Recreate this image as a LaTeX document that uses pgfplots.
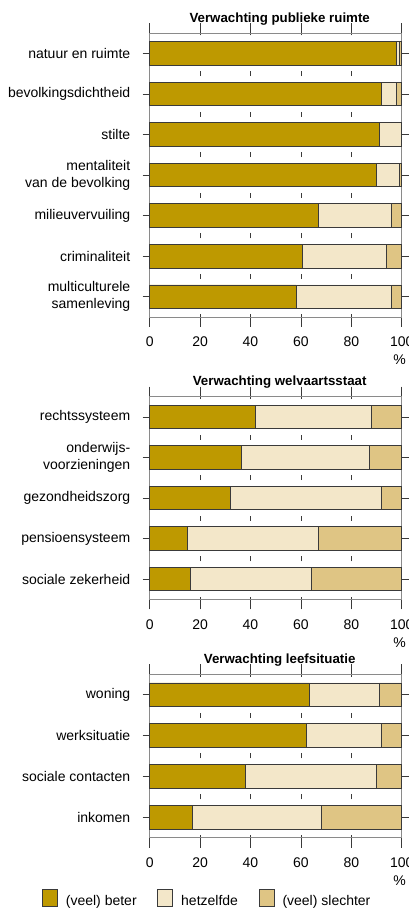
\documentclass[border=0pt]{standalone}
\usepackage{pgfplots}
\pgfplotsset{compat=1.18}
\usepackage{fontspec}
\setmainfont{Liberation Sans}
\definecolor{cBeter}{HTML}{BE9900}
\definecolor{cHetz}{HTML}{F3E7C9}
\definecolor{cSlecht}{HTML}{DFC584}
\definecolor{cEdge}{HTML}{3A3A3A}
\definecolor{cFrame}{HTML}{8A8A8A}
\tikzset{pct/.style={anchor=north east, inner sep=0pt, xshift=4.3pt, yshift=-38pt, font=\fontsize{14}{16.8}\selectfont}}
\pgfplotsset{
  panel/.style={
    scale only axis, width=252pt, anchor=south west,
    xbar stacked, bar width=23.5pt,
    xmin=0, xmax=100,
    xtick={0,20,40,60,80,100},
    tick align=outside,
    xtick style={/pgfplots/major tick length=10pt, draw=cEdge, line width=0.6pt},
    ytick style={/pgfplots/major tick length=7pt, draw=cEdge, line width=0.6pt},
    axis line style={draw=cFrame, line width=0.8pt},
    /pgf/number format/assume math mode=true,
    ticklabel style={font=\fontsize{14}{16.8}\selectfont, inner sep=0pt},
    yticklabel style={align=right, anchor=east, xshift=-15pt},
    xticklabel style={anchor=north, yshift=-15.5pt},
    xmajorgrids,
    title style={at={(0.5,1)}, anchor=base, yshift=5pt, xshift=4pt, inner sep=0pt,
      font=\fontsize{13.3}{16}\selectfont\bfseries},
    clip=false,
  },
  beter/.style={fill=cBeter, draw=cEdge, line width=0.7pt},
  hetz/.style={fill=cHetz, draw=cEdge, line width=0.7pt},
  slecht/.style={fill=cSlecht, draw=cEdge, line width=0.7pt},
}
\begin{document}
\begin{tikzpicture}
\useasboundingbox (0,0) rectangle (409pt,908pt);
% Panel 1
\begin{axis}[panel, at={(149.7pt,591pt)}, height=284pt,
  ymin=-0.5, ymax=6.5, ytick={0,1,2,3,4,5,6},
  yticklabels={{multiculturele\\samenleving}, criminaliteit, milieuvervuiling, {mentaliteit\\van de bevolking}, stilte, bevolkingsdichtheid, {natuur en ruimte}},
  title={Verwachting publieke ruimte},
  major x grid style={draw=cEdge, line width=0.6pt, dash pattern=on 5pt off 35.571pt, dash phase=2.5pt}]
\addplot[beter] coordinates {(58,0) (60.5,1) (67,2) (90,3) (91,4) (92,5) (98,6)};
\addplot[hetz] coordinates {(38,0) (33.5,1) (29,2) (9,3) (9,4) (6,5) (1,6)};
\addplot[slecht] coordinates {(4,0) (6,1) (4,2) (1,3) (0,4) (2,5) (1,6)};
\node[pct] at (rel axis cs:1,0) {\%};
\end{axis}
% Panel 2
\begin{axis}[panel, at={(149.7pt,308.7pt)}, height=202.6pt,
  ymin=-0.5, ymax=4.5, ytick={0,1,2,3,4},
  yticklabels={{sociale zekerheid}, pensioensysteem, gezondheidszorg, {onderwijs-\\voorzieningen}, rechtssysteem},
  title={Verwachting welvaartsstaat},
  major x grid style={draw=cEdge, line width=0.6pt, dash pattern=on 5pt off 35.52pt, dash phase=2.5pt}]
\addplot[beter] coordinates {(16,0) (15,1) (32,2) (36.5,3) (42,4)};
\addplot[hetz] coordinates {(48,0) (52,1) (60,2) (50.5,3) (46,4)};
\addplot[slecht] coordinates {(36,0) (33,1) (8,2) (13,3) (12,4)};
\node[pct] at (rel axis cs:1,0) {\%};
\end{axis}
% Panel 3
\begin{axis}[panel, at={(149.7pt,70.3pt)}, height=163.4pt,
  ymin=-0.5, ymax=3.5, ytick={0,1,2,3},
  yticklabels={inkomen, {sociale contacten}, werksituatie, woning},
  title={Verwachting leefsituatie},
  major x grid style={draw=cEdge, line width=0.6pt, dash pattern=on 5pt off 35.85pt, dash phase=2.5pt},
  legend style={at={(-0.4286,-0.314)}, anchor=north west, draw=none, fill=none, inner sep=0pt,
    legend columns=3, font=\fontsize{14}{16.8}\selectfont,
    nodes={inner sep=0pt},
    /tikz/every odd column/.append style={column sep=8.3pt},
    /tikz/every even column/.append style={column sep=20.5pt}},
  legend image code/.code={\draw[#1] (0pt,-5pt) rectangle (15pt,12pt);}]
\addplot[beter] coordinates {(17,0) (38,1) (62,2) (63.5,3)};
\addlegendentry{(veel) beter}
\addplot[hetz] coordinates {(51,0) (52,1) (30,2) (27.5,3)};
\addlegendentry{hetzelfde}
\addplot[slecht] coordinates {(32,0) (10,1) (8,2) (9,3)};
\addlegendentry{(veel) slechter}
\node[pct] at (rel axis cs:1,0) {\%};
\end{axis}
\end{tikzpicture}
\end{document}
